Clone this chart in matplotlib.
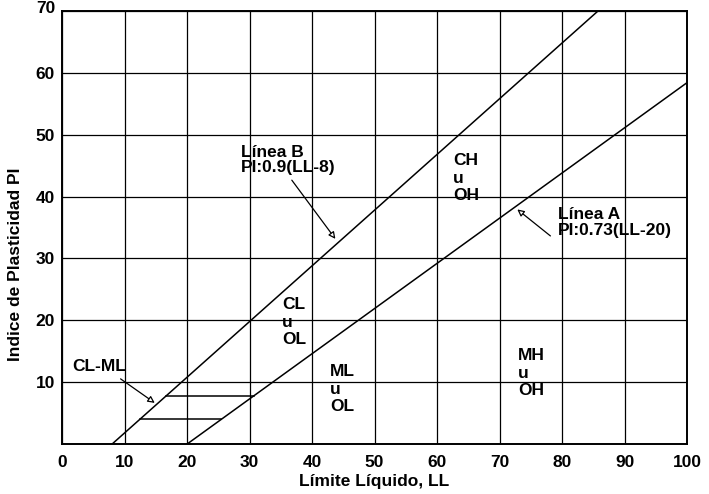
import matplotlib
matplotlib.use("Agg")
import matplotlib.pyplot as plt
import numpy as np

plt.rcParams['font.family'] = ['Liberation Sans', 'DejaVu Sans']

# A-line and B-line definitions
a_line_ll = [20, 100]
b_line_ll = [8, 100]
a_slope, a_off = 0.73, 20
b_slope, b_off = 0.9, 8

# CL-ML band horizontal lines (PI values)
band_pi = [4, 7.8]

x_ticks = [0, 10, 20, 30, 40, 50, 60, 70, 80, 90, 100]
y_ticks = [10, 20, 30, 40, 50, 60, 70]
y_tick_labels = ["10", "20", "30", "40", "50", "60", ""]

zone_labels = ["CH\nu\nOH", "CL\nu\nOL", "ML\nu\nOL", "MH\nu\nOH", "CL-ML"]
zone_pos = [(62.6, 47.0), (35.2, 23.7), (42.9, 12.9), (73.0, 15.5), (1.6, 13.8)]

fs = 12.5

fig = plt.figure(figsize=(7.09, 4.94), dpi=100)
ax = fig.add_axes([0.0875, 0.101, 0.8815, 0.877])
ax.set_xlim(0, 100)
ax.set_ylim(0, 70)

ax.set_xticks(x_ticks)
ax.set_yticks(y_ticks)
ax.set_yticklabels(y_tick_labels)
ax.grid(True, color='black', linewidth=0.9)
ax.set_axisbelow(True)
ax.tick_params(length=0, labelsize=12.5)
ax.tick_params(axis='x', pad=8)
ax.tick_params(axis='y', pad=5)
for lab in ax.get_xticklabels() + ax.get_yticklabels():
    lab.set_fontweight('bold')
for s in ax.spines.values():
    s.set_linewidth(1.4)

# top "70" label, placed as high as possible while staying inside the figure
ax.annotate("70", xy=(0, 70), xycoords=('axes fraction', 'data'),
            xytext=(-5, 2), textcoords='offset points', ha='right', va='center',
            fontsize=12.5, fontweight='bold', annotation_clip=False)

lw = 1.1
xa = np.array(a_line_ll, dtype=float)
ax.plot(xa, a_slope * (xa - a_off), color='black', lw=lw)
xb = np.array(b_line_ll, dtype=float)
ax.plot(xb, b_slope * (xb - b_off), color='black', lw=lw)

for pi in band_pi:
    x0 = b_off + pi / b_slope
    x1 = a_off + pi / a_slope
    ax.plot([x0, x1], [pi, pi], color='black', lw=lw)

for t, (x, y) in zip(zone_labels, zone_pos):
    ax.text(x, y, t, fontsize=fs, fontweight='bold', va='top', ha='left',
            linespacing=1.2)

arrow = dict(arrowstyle='-|>', color='black', lw=0.9, fc='white', mutation_scale=10)
ax.annotate("", xy=(15.2, 6.4), xytext=(9, 10.8), arrowprops=arrow)
ax.annotate("Línea B\nPI:0.9(LL-8)", xy=(44.0, 32.8), xytext=(28.6, 48.4),
            fontsize=fs, fontweight='bold', va='top', ha='left', linespacing=1.05,
            arrowprops=dict(arrow, relpos=(0.5, 0.0)))
ax.annotate("Línea A\nPI:0.73(LL-20)", xy=(72.5, 38.2), xytext=(79.4, 38.3),
            fontsize=fs, fontweight='bold', va='top', ha='left', linespacing=1.05,
            arrowprops=dict(arrow, relpos=(-0.05, 0.0)))

ax.set_xlabel("Límite Líquido, LL", fontsize=12.5, fontweight='bold', labelpad=3)
ax.set_ylabel("Indice de Plasticidad PI", fontsize=12.5, fontweight='bold')
ax.yaxis.set_label_coords(-0.062, 0.416)

fig.savefig("out.png", dpi=100)
